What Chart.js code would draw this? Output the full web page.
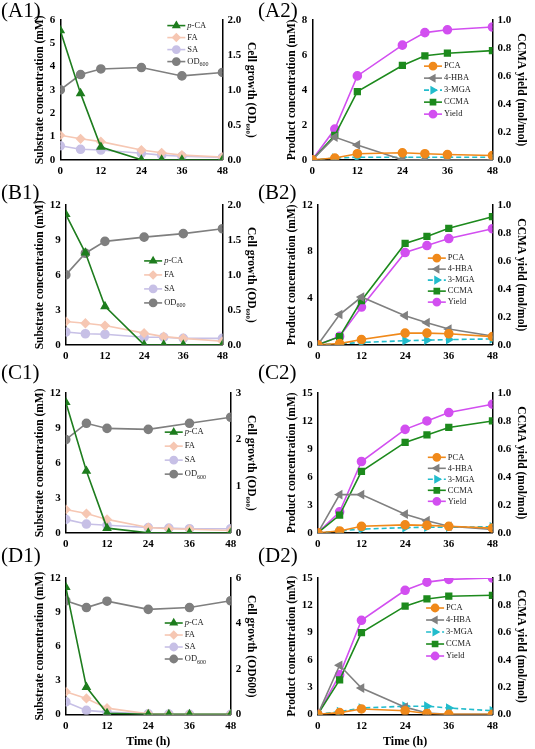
<!DOCTYPE html>
<html><head><meta charset="utf-8">
<script src="https://cdn.jsdelivr.net/npm/chart.js@4.4.0/dist/chart.umd.min.js"></script>
<style>
body{margin:0;background:#fff;width:535px;height:749px;position:relative;overflow:hidden;font-family:"Liberation Serif",serif}
.c{position:absolute}
.lab{position:absolute;font-size:21px;font-family:"Liberation Serif",serif;color:#000}
</style></head><body>
<script>
const times=[0,6,12,24,30,36,48];
// A1
const A1_pCA=[5.55,2.85,0.55,0,0,0,0], A1_FA=[1.05,0.9,0.78,0.42,0.3,0.2,0.12], A1_SA=[0.6,0.45,0.42,0.28,0.2,0.15,0.1], A1_OD=[1.0,1.22,1.3,1.32,null,1.2,1.25];
// A2
const A2_PCA=[0,0.1,0.35,0.4,0.35,0.3,0.25], A2_HBA=[0,1.3,0.85,0,0,0,0], A2_MGA=[0,0.1,0.15,0.15,0.15,0.15,0.15], A2_CCMA=[0,1.4,3.9,5.4,5.95,6.1,6.25], A2_Yield=[0,0.22,0.6,0.82,0.91,0.93,0.95];
// B1
const B1_pCA=[11.2,7.9,3.3,0,0,0,0], B1_FA=[2,1.85,1.65,1.0,0.7,0.55,0.3], B1_SA=[1.1,0.95,0.9,0.65,0.65,0.55,0.55], B1_OD=[1.0,1.31,1.48,1.54,null,1.59,1.66];
// B2
const B2_PCA=[0,0.1,0.45,1.0,1.0,0.95,0.7], B2_HBA=[0,2.6,4.1,2.5,1.9,1.35,0.75], B2_MGA=[0,0.1,0.2,0.35,0.4,0.45,0.5], B2_CCMA=[0,0.7,3.8,8.7,9.3,10.0,11.0], B2_Yield=[0,0.06,0.27,0.66,0.71,0.76,0.83];
// C1
const C1_pCA=[11.2,5.3,0.4,0,0,0,0], C1_FA=[2.0,1.65,1.15,0.45,0.35,0.3,0.2], C1_SA=[1.15,0.75,0.65,0.45,0.4,0.35,0.35], C1_OD=[2.0,2.35,2.24,2.22,null,2.35,2.48];
// C2
const C2_PCA=[0,0.2,0.7,0.85,0.8,0.7,0.5], C2_HBA=[0,4.1,4.1,2.0,1.3,0.7,0.35], C2_MGA=[0,0.2,0.4,0.55,0.6,0.6,0.65], C2_CCMA=[0,1.9,6.6,9.7,10.5,11.3,12.0], C2_Yield=[0,0.15,0.51,0.74,0.8,0.86,0.92];
// D1
const D1_pCA=[11.2,2.4,0.1,0,0,0,0], D1_FA=[2.0,1.4,0.55,0.05,0,0,0], D1_SA=[1.1,0.35,0.2,0.05,0.02,0.01,0], D1_OD=[5.0,4.7,4.98,4.62,null,4.7,5.0];
// D2
const D2_PCA=[0,0.2,0.6,0.4,0.1,0,0], D2_HBA=[0,5.4,2.9,0.8,0.15,0,0], D2_MGA=[0,0.3,0.7,0.9,0.9,0.7,0.4], D2_CCMA=[0,3.8,9.0,11.9,12.7,13.0,13.1], D2_Yield=[0,0.29,0.69,0.91,0.97,0.99,1.0];

const F='"Liberation Serif", serif';
function xy(a){return times.map((t,i)=>({x:t,y:a[i]}));}
function ds(label,data,color,ps,axis,extra){
  return Object.assign({label,data:xy(data),borderColor:color,backgroundColor:color,pointStyle:ps,pointRadius:4,pointHoverRadius:4,borderWidth:1.6,yAxisID:axis,spanGaps:true,tension:0},extra||{});
}
const legendPlugin={id:'ilegend',afterDraw(ch,a,o){
  const ctx=ch.ctx,ca=ch.chartArea;let x=ca.left+(ca.right-ca.left)*o.x,y=ca.top+(ca.bottom-ca.top)*o.y;
  ch.data.datasets.forEach(d=>{
    ctx.save();ctx.strokeStyle=d.borderColor;ctx.lineWidth=1.6;ctx.setLineDash(d.borderDash||[]);
    ctx.beginPath();ctx.moveTo(x,y);ctx.lineTo(x+18,y);ctx.stroke();ctx.setLineDash([]);
    ctx.fillStyle=d.backgroundColor;
    Chart.helpers.drawPoint(ctx,{pointStyle:d.pointStyle,rotation:d.pointRotation||0,radius:3.6,borderWidth:1},x+9,y);
    ctx.fillStyle='#222';ctx.font='8.5px '+F;ctx.textBaseline='middle';
    const L=d.label;
    if(L==='OD600'){ctx.fillText('OD',x+20,y);const w=ctx.measureText('OD').width;ctx.font='6px '+F;ctx.fillText('600',x+20+w,y+3);}
    else if(L==='p-CA'){ctx.font='italic 8.5px '+F;ctx.fillText('p',x+20,y);const w=ctx.measureText('p').width;ctx.font='8.5px '+F;ctx.fillText('-CA',x+20+w,y);}
    else ctx.fillText(L,x+20,y);
    ctx.restore();y+=o.dy;});
}};
function make(left,top,w,h,sets,y1,y2,opt){
  const cv=document.createElement('canvas');cv.className='c';cv.style.left=left+'px';cv.style.top=top+'px';cv.width=w;cv.height=h;cv.style.width=w+'px';cv.style.height=h+'px';document.body.appendChild(cv);
  const tk={color:'#000',font:{family:F,size:11,weight:'bold'},padding:2};
  new Chart(cv,{type:'line',data:{datasets:sets},plugins:[legendPlugin],options:{
    responsive:false,animation:false,devicePixelRatio:1,
    layout:{padding:{top:opt.pt,bottom:opt.pb,left:opt.pl,right:opt.pr}},
    plugins:{legend:{display:false},tooltip:{enabled:false},ilegend:opt.leg},
    scales:{
      x:{type:'linear',min:0,max:48,ticks:Object.assign({stepSize:12},tk),grid:{display:false,drawTicks:true,tickLength:3,tickColor:'#000'},border:{color:'#000',width:1.5},
        title:{display:opt.xt,text:'Time (h)',color:'#000',font:{family:F,size:12,weight:'bold'},padding:0}},
      y:{position:'left',min:0,max:y1.max,ticks:Object.assign({stepSize:y1.step},tk),grid:{display:false,tickLength:3,tickColor:'#000'},border:{color:'#000',width:1.5},
        title:{display:true,text:y1.title,color:'#000',font:{family:F,size:11.5,weight:'bold'},padding:1}},
      y2:{position:'right',min:0,max:y2.max,ticks:Object.assign({stepSize:y2.step,callback:v=>y2.fmt(v)},tk),grid:{display:false,tickLength:3,tickColor:'#000'},border:{color:'#000',width:1.5},
        title:{display:true,text:y2.title,color:'#000',font:{family:F,size:11.5,weight:'bold'},padding:1}}
    }}});
}
function lab(t,x,y){const d=document.createElement('div');d.className='lab';d.style.left=x+'px';d.style.top=y+'px';d.textContent=t;document.body.appendChild(d);}
const G='#1e7d1e',FAc='#f6c7b3',SAc='#c7c0e6',ODc='#7f7f7f',PCAc='#f0891a',HBAc='#808080',MGAc='#22bccc',CCc='#1d8a1d',YLc='#d24ff0';
function sub(p){return [ds('p-CA',p[0],G,'triangle','y'),ds('FA',p[1],FAc,'rectRot','y'),ds('SA',p[2],SAc,'circle','y'),ds('OD600',p[3],ODc,'circle','y2')];}
function prod(p){return [ds('PCA',p[0],PCAc,'circle','y'),ds('4-HBA',p[1],HBAc,'triangle','y',{pointRotation:-90}),ds('3-MGA',p[2],MGAc,'triangle','y',{pointRotation:90,borderDash:[5,3]}),ds('CCMA',p[3],CCc,'rect','y'),ds('Yield',p[4],YLc,'circle','y2')];}
const subT='Substrate concentration (mM)',odT='Cell growth (OD₆₀₀)',prT='Product concentration (mM)',ylT='CCMA yield (mol/mol)';
const f1=v=>v.toFixed(1),f0=v=>String(v);
const rows=[0,185,370,555];
const L={pl:32,pr:8},R={pl:17,pr:6};
make(0,rows[0],267,185,sub([A1_pCA,A1_FA,A1_SA,A1_OD]),{max:6,step:1,title:subT},{max:2,step:0.5,title:odT,fmt:f1},{...L,pt:20,pb:5,xt:false,leg:{x:0.66,y:0.04,dy:12}});
make(267,rows[0],268,185,prod([A2_PCA,A2_HBA,A2_MGA,A2_CCMA,A2_Yield]),{max:8,step:2,title:prT},{max:1,step:0.2,title:ylT,fmt:f1},{...R,pt:20,pb:5,xt:false,leg:{x:0.62,y:0.33,dy:12}});
make(0,rows[1],267,185,sub([B1_pCA,B1_FA,B1_SA,B1_OD]),{max:12,step:3,title:subT},{max:2,step:0.5,title:odT,fmt:f1},{...L,pt:20,pb:5,xt:false,leg:{x:0.5,y:0.4,dy:14}});
make(267,rows[1],268,185,prod([B2_PCA,B2_HBA,B2_MGA,B2_CCMA,B2_Yield]),{max:12,step:4,title:prT},{max:1,step:0.2,title:ylT,fmt:f1},{...R,pt:20,pb:5,xt:false,leg:{x:0.63,y:0.38,dy:11}});
make(0,rows[2],267,185,sub([C1_pCA,C1_FA,C1_SA,C1_OD]),{max:12,step:3,title:subT},{max:3,step:1,title:odT,fmt:f0},{...L,pt:23,pb:2,xt:false,leg:{x:0.6,y:0.28,dy:14}});
make(267,rows[2],268,185,prod([C2_PCA,C2_HBA,C2_MGA,C2_CCMA,C2_Yield]),{max:15,step:3,title:prT},{max:1,step:0.2,title:ylT,fmt:f1},{...R,pt:23,pb:2,xt:false,leg:{x:0.63,y:0.46,dy:11}});
make(0,rows[3],267,194,sub([D1_pCA,D1_FA,D1_SA,D1_OD]),{max:12,step:3,title:subT},{max:6,step:2,title:'Cell growth (OD600)',fmt:f0},{...L,pt:23,pb:0,xt:true,leg:{x:0.6,y:0.33,dy:12}});
make(267,rows[3],268,194,prod([D2_PCA,D2_HBA,D2_MGA,D2_CCMA,D2_Yield]),{max:15,step:3,title:prT},{max:1,step:0.2,title:ylT,fmt:f1},{...R,pt:23,pb:0,xt:true,leg:{x:0.62,y:0.22,dy:12}});
lab('(A1)',1,-2);lab('(A2)',258,-2);lab('(B1)',1,180);lab('(B2)',258,180);lab('(C1)',1,360);lab('(C2)',258,360);lab('(D1)',1,543);lab('(D2)',258,543);
</script></body></html>
